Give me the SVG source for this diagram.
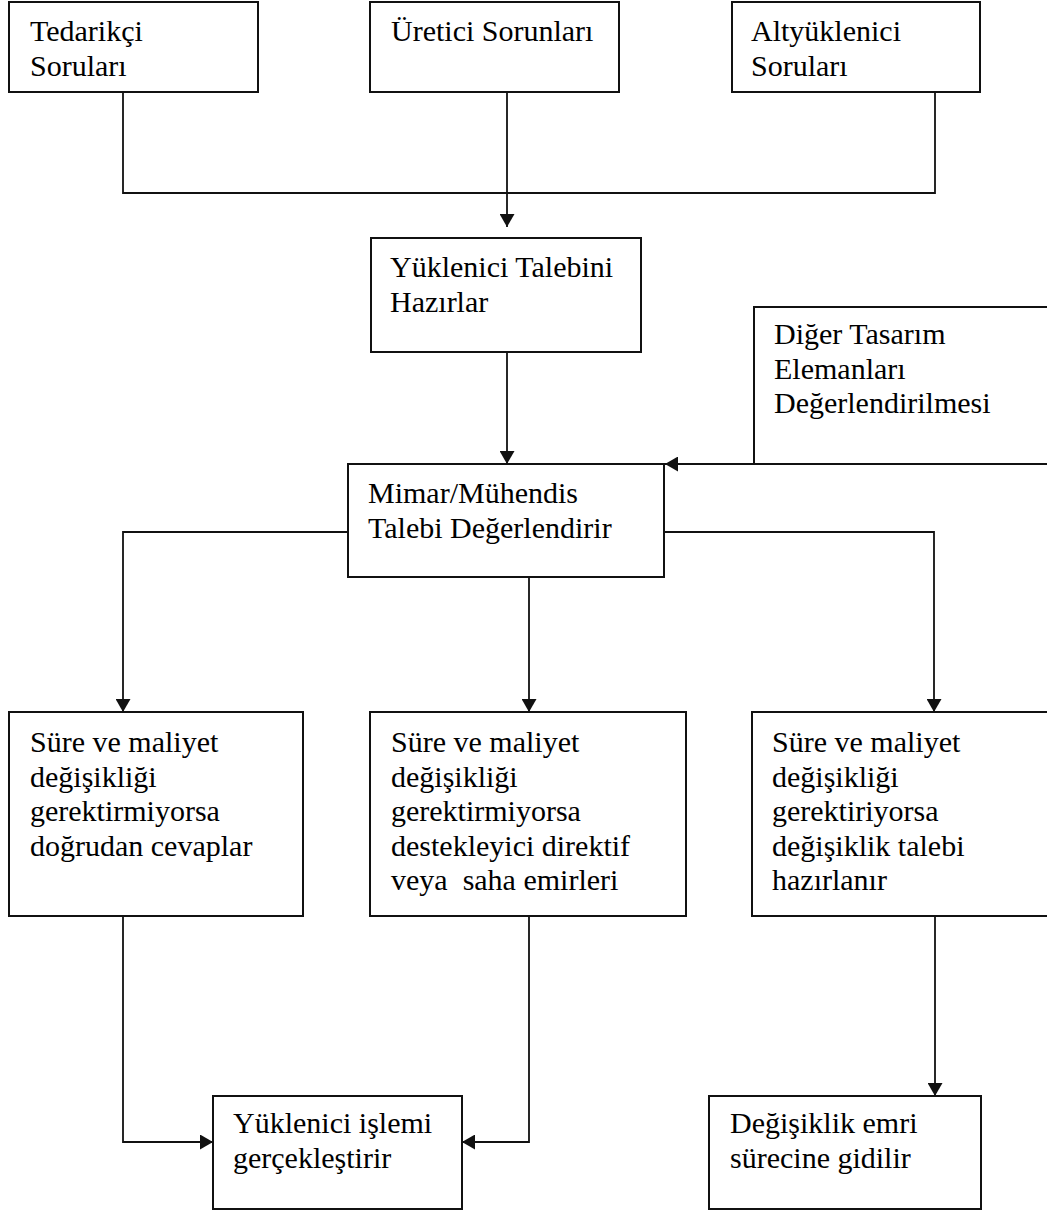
<svg xmlns="http://www.w3.org/2000/svg" width="1047" height="1212" viewBox="0 0 1047 1212">
  <style>
    .box { fill: #ffffff; stroke: #111111; stroke-width: 2; }
    .lbl { font-family: 'Liberation Serif', 'DejaVu Serif', serif; font-size: 30px; fill: #000000; white-space: pre; }
    .wire { fill: none; stroke: #111111; stroke-width: 1.8; }
  </style>
  <defs>
    <marker id="arrow" viewBox="0 0 13 15" refX="13" refY="7.5" markerWidth="13" markerHeight="15" markerUnits="userSpaceOnUse" orient="auto">
      <path d="M0 0 L13 7.5 L0 15 Z" fill="#111111"/>
    </marker>
  </defs>

  <rect width="1047" height="1212" fill="#ffffff"/>

  <!-- connectors -->
  <g id="connectors">
    <path class="wire" d="M123 92 V193 H935 V92"/>
    <path class="wire" d="M507 92 V227" marker-end="url(#arrow)"/>
    <path class="wire" d="M507 352 V464" marker-end="url(#arrow)"/>
    <path class="wire" d="M1047 464 H665" marker-end="url(#arrow)"/>
    <path class="wire" d="M348 532 H123 V712" marker-end="url(#arrow)"/>
    <path class="wire" d="M529 577 V712" marker-end="url(#arrow)"/>
    <path class="wire" d="M664 532 H934 V712" marker-end="url(#arrow)"/>
    <path class="wire" d="M123 916 V1142 H213" marker-end="url(#arrow)"/>
    <path class="wire" d="M529 916 V1142 H462" marker-end="url(#arrow)"/>
    <path class="wire" d="M935 916 V1096" marker-end="url(#arrow)"/>
  </g>

  <!-- nodes -->
  <g id="tedarikci" font-family="Liberation Serif, serif">
    <rect class="box" x="9" y="2" width="249" height="90"/>
    <text class="lbl" x="30" y="41">Tedarikçi</text>
    <text class="lbl" x="30" y="75.5">Soruları</text>
  </g>
  <g id="uretici" font-family="Liberation Serif, serif">
    <rect class="box" x="370" y="2" width="249" height="90"/>
    <text class="lbl" x="391" y="41">Üretici Sorunları</text>
  </g>
  <g id="altyuklenici" font-family="Liberation Serif, serif">
    <rect class="box" x="732" y="2" width="248" height="90"/>
    <text class="lbl" x="751" y="41">Altyüklenici</text>
    <text class="lbl" x="751" y="75.5">Soruları</text>
  </g>
  <g id="yuklenici-talep" font-family="Liberation Serif, serif">
    <rect class="box" x="371" y="238" width="270" height="114"/>
    <text class="lbl" x="390" y="277">Yüklenici Talebini</text>
    <text class="lbl" x="390" y="311.5">Hazırlar</text>
  </g>
  <g id="diger-tasarim" font-family="Liberation Serif, serif">
    <path class="box" d="M1050 307 H754 V464 H1050 Z"/>
    <text class="lbl" x="774" y="344">Diğer Tasarım</text>
    <text class="lbl" x="774" y="378.5">Elemanları</text>
    <text class="lbl" x="774" y="413">Değerlendirilmesi</text>
  </g>
  <g id="mimar-muhendis" font-family="Liberation Serif, serif">
    <rect class="box" x="348" y="464" width="316" height="113"/>
    <text class="lbl" x="368" y="503">Mimar/Mühendis</text>
    <text class="lbl" x="368" y="537.5">Talebi Değerlendirir</text>
  </g>
  <g id="dogrudan-cevap" font-family="Liberation Serif, serif">
    <rect class="box" x="9" y="712" width="294" height="204"/>
    <text class="lbl" x="30" y="752">Süre ve maliyet</text>
    <text class="lbl" x="30" y="786.5">değişikliği</text>
    <text class="lbl" x="30" y="821">gerektirmiyorsa</text>
    <text class="lbl" x="30" y="855.5">doğrudan cevaplar</text>
  </g>
  <g id="destekleyici-direktif" font-family="Liberation Serif, serif">
    <rect class="box" x="370" y="712" width="316" height="204"/>
    <text class="lbl" x="391" y="752">Süre ve maliyet</text>
    <text class="lbl" x="391" y="786.5">değişikliği</text>
    <text class="lbl" x="391" y="821">gerektirmiyorsa</text>
    <text class="lbl" x="391" y="855.5">destekleyici direktif</text>
    <text class="lbl" x="391" y="890">veya  saha emirleri</text>
  </g>
  <g id="degisiklik-talebi" font-family="Liberation Serif, serif">
    <path class="box" d="M1050 712 H752 V916 H1050 Z"/>
    <text class="lbl" x="772" y="752">Süre ve maliyet</text>
    <text class="lbl" x="772" y="786.5">değişikliği</text>
    <text class="lbl" x="772" y="821">gerektiriyorsa</text>
    <text class="lbl" x="772" y="855.5">değişiklik talebi</text>
    <text class="lbl" x="772" y="890">hazırlanır</text>
  </g>
  <g id="yuklenici-islem" font-family="Liberation Serif, serif">
    <rect class="box" x="213" y="1096" width="249" height="113"/>
    <text class="lbl" x="233" y="1133">Yüklenici işlemi</text>
    <text class="lbl" x="233" y="1167.5">gerçekleştirir</text>
  </g>
  <g id="degisiklik-emri" font-family="Liberation Serif, serif">
    <rect class="box" x="709" y="1096" width="272" height="113"/>
    <text class="lbl" x="730" y="1133">Değişiklik emri</text>
    <text class="lbl" x="730" y="1167.5">sürecine gidilir</text>
  </g>
</svg>
